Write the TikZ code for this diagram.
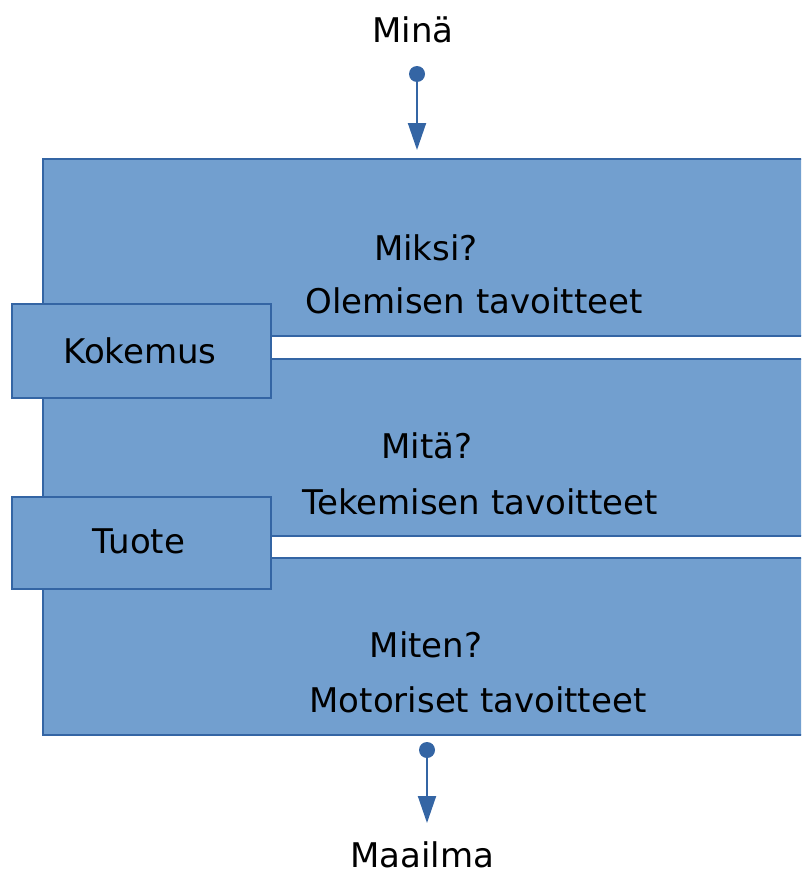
\documentclass[tikz,border=0pt]{standalone}
\usepackage{fontspec}
\setmainfont{DejaVu Sans}
\usetikzlibrary{arrows.meta}
\definecolor{bandfill}{HTML}{729FCF}
\definecolor{bandline}{HTML}{3465A4}
\tikzset{
  band/.style={draw=bandline, fill=bandfill, line width=1.5pt, anchor=north west,
    minimum width=770pt, minimum height=177pt, inner sep=0pt},
  tab/.style={draw=bandline, fill=bandfill, line width=1.5pt, anchor=north west,
    minimum width=259pt, inner sep=0pt},
  lbl/.style={anchor=base, inner sep=0pt, font=\fontsize{34}{40}\selectfont},
  conn/.style={draw=bandline, line width=2pt, -{Triangle[width=18pt,length=27pt]}},
  dotc/.style={circle, fill=bandline, inner sep=0pt, minimum size=16pt}
}
\begin{document}
\begin{tikzpicture}[x=1pt,y=-1pt]
\useasboundingbox (0,0) rectangle (801,878);
\clip (0,0) rectangle (801,878);
% bands
\node[band] (b1) at (42,158) {};
\node[band] (b2) at (42,358) {};
\node[band] (b3) at (42,557) {};
% tabs
\node[tab, minimum height=94pt] (kok) at (11,303) {};
\node[tab, minimum height=92pt] (tuo) at (11,496) {};
% labels
\node[lbl] (kokt) at (140,363) {Kokemus};
\node[lbl] (tuot) at (139,553) {Tuote};
\node[lbl] (miksi) at (426,260) {Miksi?};
\node[lbl] (olem) at (474,313) {Olemisen tavoitteet};
\node[lbl] (mita) at (427,458) {Mitä?};
\node[lbl] (teke) at (480,514) {Tekemisen tavoitteet};
\node[lbl] (miten) at (426,657) {Miten?};
\node[lbl] (moto) at (478,712) {Motoriset tavoitteet};
\node[lbl] (mina) at (413,42) {Minä};
\node[lbl] (maa) at (422,867) {Maailma};
% connectors
\node[dotc] (d1) at (417,74) {};
\coordinate (e1) at (417,150);
\draw[conn] (d1.center) -- (e1);
\node[dotc] (d2) at (427,750) {};
\coordinate (e2) at (427,823);
\draw[conn] (d2.center) -- (e2);
\end{tikzpicture}
\end{document}
